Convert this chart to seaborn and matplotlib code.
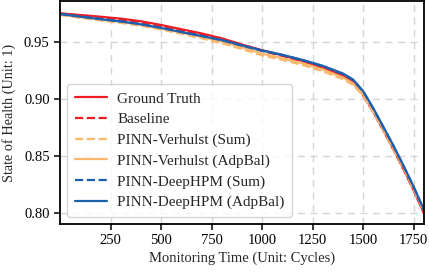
import numpy as np
import pandas as pd
import matplotlib
matplotlib.use("Agg")
import matplotlib.pyplot as plt
import seaborn as sns

cycles = [0, 100, 200, 300, 400, 500, 600, 700, 800, 900, 1000, 1100, 1200,
          1300, 1400, 1450, 1500, 1550, 1600, 1650, 1700, 1750, 1800]

ground_truth = [0.9755, 0.9740, 0.9725, 0.9708, 0.9685, 0.9652, 0.9615, 0.9578,
                0.9535, 0.9480, 0.9430, 0.9385, 0.9335, 0.9280, 0.9205, 0.9150,
                0.9040, 0.8890, 0.8725, 0.8560, 0.8385, 0.8200, 0.8000]
baseline = [0.9752, 0.9735, 0.9718, 0.9700, 0.9677, 0.9645, 0.9607, 0.9570,
            0.9528, 0.9475, 0.9425, 0.9380, 0.9330, 0.9275, 0.9200, 0.9142,
            0.9030, 0.8885, 0.8722, 0.8555, 0.8380, 0.8195, 0.7995]
verhulst_sum = [0.9740, 0.9715, 0.9692, 0.9670, 0.9645, 0.9612, 0.9575, 0.9535,
                0.9492, 0.9440, 0.9385, 0.9345, 0.9300, 0.9245, 0.9175, 0.9125,
                0.9030, 0.8885, 0.8725, 0.8560, 0.8390, 0.8205, 0.8010]
verhulst_adp = [0.9745, 0.9722, 0.9700, 0.9680, 0.9655, 0.9622, 0.9585, 0.9548,
                0.9505, 0.9455, 0.9400, 0.9360, 0.9315, 0.9260, 0.9190, 0.9138,
                0.9040, 0.8895, 0.8735, 0.8570, 0.8400, 0.8215, 0.8020]
deephpm_sum = [0.9750, 0.9728, 0.9706, 0.9685, 0.9660, 0.9628, 0.9592, 0.9556,
               0.9518, 0.9470, 0.9425, 0.9388, 0.9342, 0.9290, 0.9220, 0.9168,
               0.9065, 0.8915, 0.8750, 0.8585, 0.8410, 0.8225, 0.8025]
deephpm_adp = [0.9748, 0.9725, 0.9703, 0.9683, 0.9658, 0.9626, 0.9590, 0.9555,
               0.9520, 0.9473, 0.9428, 0.9390, 0.9345, 0.9293, 0.9225, 0.9172,
               0.9070, 0.8920, 0.8755, 0.8590, 0.8412, 0.8228, 0.8028]

RED = "#ee1c25"
ORANGE = "#fdb76a"
BLUE = "#1c5fae"

series = [
    ("Ground Truth",           ground_truth, RED,    "-"),
    ("Baseline",               baseline,     RED,    "--"),
    ("PINN-Verhulst (Sum)",    verhulst_sum, ORANGE, "--"),
    ("PINN-Verhulst (AdpBal)", verhulst_adp, ORANGE, "-"),
    ("PINN-DeepHPM (Sum)",     deephpm_sum,  BLUE,   "--"),
    ("PINN-DeepHPM (AdpBal)",  deephpm_adp,  BLUE,   "-"),
]

sns.set_style("ticks")
plt.rcParams["font.family"] = ["Liberation Serif", "DejaVu Serif"]

fig, ax = plt.subplots(figsize=(4.29, 2.72), dpi=100)

for name, vals, col, ls in series:
    df = pd.DataFrame({"cycle": cycles, "soh": vals})
    sns.lineplot(data=df, x="cycle", y="soh", ax=ax, color=col,
                 linestyle=ls, linewidth=1.6, label=name)

ax.set_xlim(0, 1800)
ax.set_ylim(0.7905, 0.986)
ax.set_xticks([250, 500, 750, 1000, 1250, 1500, 1750])
ax.set_yticks([0.80, 0.85, 0.90, 0.95])
ax.yaxis.set_major_formatter(matplotlib.ticker.FormatStrFormatter("%.2f"))
ax.grid(True, linestyle=(0, (5, 4)), color="#d4d4d4", linewidth=1.0)
ax.set_axisbelow(True)

for sp in ax.spines.values():
    sp.set_linewidth(1.3)
    sp.set_color("black")
ax.tick_params(direction="out", length=4.5, width=1.1, pad=3,
               labelsize=10.5, colors="black")

ax.set_xlabel("Monitoring Time (Unit: Cycles)", fontsize=10.5, labelpad=3)
ax.set_ylabel("State of Health (Unit: 1)", fontsize=10.3, labelpad=6)

leg = ax.legend(loc="lower left", fontsize=11, handlelength=2.1,
                handletextpad=0.7, labelspacing=0.45, borderpad=0.5,
                borderaxespad=0, framealpha=0.8,
                bbox_to_anchor=(0.019, 0.03))
leg.get_frame().set_edgecolor("#cccccc")

fig.subplots_adjust(left=0.14, right=0.988, top=0.995, bottom=0.178)
fig.savefig("out.png", dpi=100)
